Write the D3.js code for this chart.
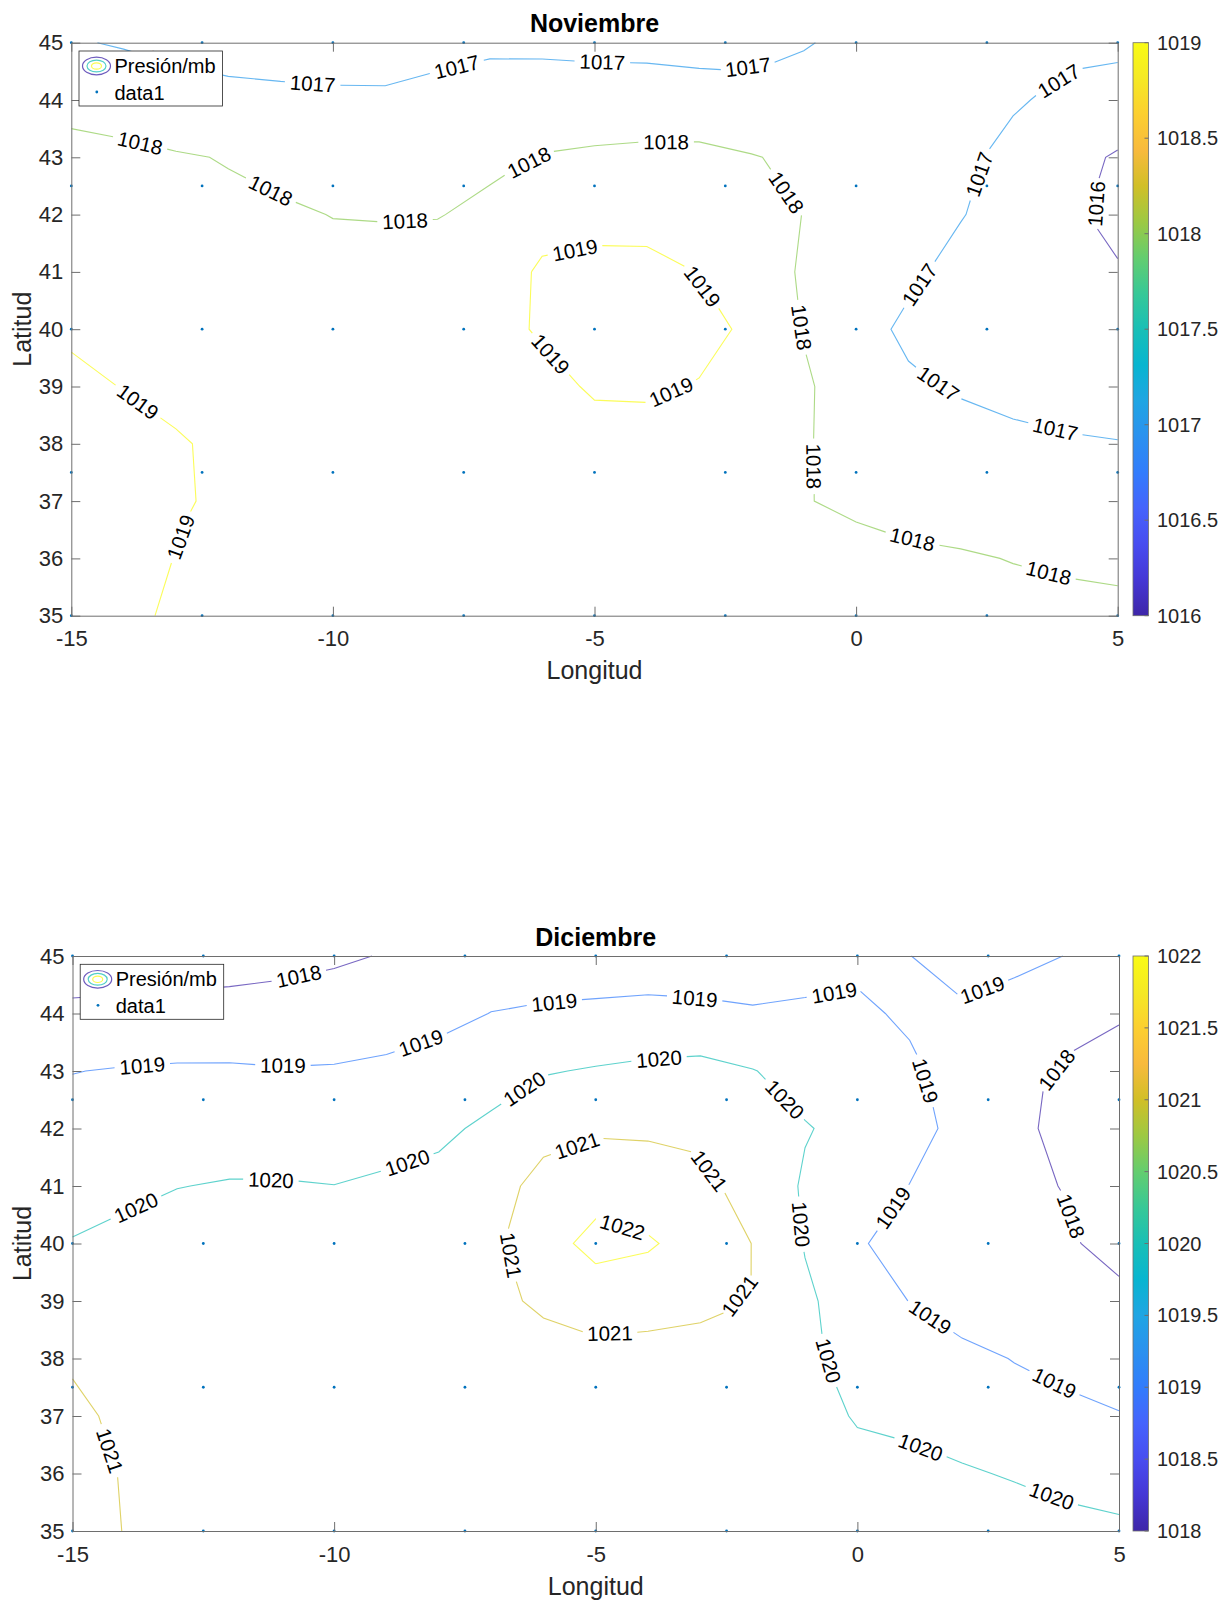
<!DOCTYPE html>
<html>
<head>
<meta charset="utf-8">
<script src="https://cdn.jsdelivr.net/npm/d3@7"></script>
<style>
  body { margin: 0; background: #fff; }
  text { font-family: "Liberation Sans", Arial, Helvetica, sans-serif; }
</style>
</head>
<body>
<svg id="chart" width="1223" height="1601"></svg>
<script>
// grid of the pressure field (1 degree), rows go from north to south
const lons = [-15, -14, -13, -12, -11, -10, -9, -8, -7, -6, -5, -4, -3, -2, -1, 0, 1, 2, 3, 4, 5];
const lats = [45, 44, 43, 42, 41, 40, 39, 38, 37, 36, 35];

// station points (data1)
const stationLons = [-15, -12.5, -10, -7.5, -5, -2.5, 0, 2.5, 5];
const stationLats = [45, 42.5, 40, 37.5, 35];

const novPressure = [
  [1017.1, 1016.9, 1016.85, 1016.8, 1016.75, 1016.7, 1016.7, 1016.75, 1016.8, 1016.8, 1016.77, 1016.74, 1016.65, 1016.63, 1016.9, 1017.35, 1017.4, 1017.35, 1017.3, 1017.2, 1017.1],
  [1017.9, 1017.79, 1017.24, 1017.14, 1017.12, 1017.105, 1017.1, 1017.25, 1017.51, 1017.5, 1017.45, 1017.47, 1017.43, 1017.37, 1017.61, 1017.5, 1017.45, 1017.35, 1017.1, 1016.8, 1016.81],
  [1018.1, 1018.1, 1018.09, 1017.95, 1017.6, 1017.5, 1017.5, 1017.6, 1017.84, 1018.04, 1018.14, 1018.2, 1018.21, 1018.04, 1017.85, 1017.6, 1017.45, 1017.2, 1016.74, 1016.4, 1015.88],
  [1018.38, 1018.32, 1018.35, 1018.2, 1018.19, 1017.97, 1017.95, 1017.97, 1018.17, 1018.6, 1018.65, 1018.7, 1018.6, 1018.45, 1017.98, 1017.65, 1017.35, 1017.05, 1016.55, 1016.15, 1015.8],
  [1018.64, 1018.54, 1018.55, 1018.45, 1018.45, 1018.4, 1018.33, 1018.345, 1018.42, 1019.15, 1019.3, 1019.24, 1018.98, 1018.72, 1017.85, 1017.55, 1017.2, 1016.67, 1016.45, 1016.15, 1016.06],
  [1018.9, 1018.76, 1018.72, 1018.65, 1018.62, 1018.58, 1018.58, 1018.65, 1018.7, 1019.1, 1019.4, 1019.35, 1019.2, 1018.88, 1017.95, 1017.4, 1016.8, 1016.55, 1016.45, 1016.3, 1016.3],
  [1019.15, 1018.98, 1018.87, 1018.8, 1018.72, 1018.68, 1018.68, 1018.72, 1018.8, 1018.74, 1019.1, 1019.1, 1018.965, 1018.75, 1018.12, 1017.55, 1017.16, 1016.89, 1016.7, 1016.6, 1016.6],
  [1019.4, 1019.2, 1019.046, 1018.9, 1018.78, 1018.72, 1018.72, 1018.75, 1018.8, 1018.75, 1018.68, 1018.74, 1018.75, 1018.55, 1018.08, 1017.65, 1017.35, 1017.41, 1017.23, 1017.1, 1017.03],
  [1019.55, 1019.4, 1019.05, 1018.92, 1018.8, 1018.72, 1018.72, 1018.72, 1018.78, 1018.75, 1018.75, 1018.75, 1018.7, 1018.45, 1018.05, 1017.8, 1017.6, 1017.7, 1017.6, 1017.5, 1017.45],
  [1019.6, 1019.4, 1018.975, 1018.85, 1018.75, 1018.68, 1018.68, 1018.68, 1018.72, 1018.7, 1018.7, 1018.7, 1018.65, 1018.4, 1018.2, 1018.35, 1018.19, 1018.06, 1017.98, 1017.85, 1017.8],
  [1019.65, 1019.3, 1018.8, 1018.7, 1018.65, 1018.6, 1018.6, 1018.6, 1018.62, 1018.62, 1018.65, 1018.65, 1018.55, 1018.3, 1018.25, 1018.5, 1018.4, 1018.3, 1018.2, 1018.3, 1018.22]
];

const decPressure = [
  [1017.43, 1017.47, 1017.52, 1017.6, 1017.72, 1017.87, 1018.05, 1018.3, 1018.5, 1018.36, 1018.37, 1018.4, 1018.28, 1018.24, 1018.4, 1018.7, 1018.99, 1019.3, 1019.25, 1018.98, 1018.75],
  [1018.21, 1018.26, 1018.32, 1018.35, 1018.39, 1018.47, 1018.55, 1018.75, 1019.015, 1019.15, 1019.22, 1019.29, 1019.27, 1019.13, 1019.23, 1019.23, 1018.8, 1018.89, 1018.59, 1018.5, 1018.15],
  [1018.98, 1019.06, 1019.11, 1019.11, 1019.05, 1019.07, 1019.18, 1019.36, 1019.55, 1019.94, 1020.07, 1020.19, 1020.26, 1020.03, 1019.7, 1019.5, 1019.23, 1018.44, 1018.3, 1017.8, 1017.4],
  [1019.34, 1019.43, 1019.52, 1019.56, 1019.54, 1019.53, 1019.55, 1019.8, 1020.2, 1020.65, 1020.88, 1020.86, 1020.8, 1020.4, 1020.05, 1019.76, 1019.4, 1018.66, 1018.25, 1017.7, 1017.2],
  [1019.69, 1019.83, 1019.98, 1020.06, 1020.06, 1020.01, 1020.18, 1020.29, 1020.55, 1021.35, 1021.6, 1021.5, 1021.25, 1020.625, 1019.9, 1019.6, 1018.98, 1018.55, 1018.25, 1017.95, 1017.25],
  [1020.04, 1020.2, 1020.4, 1020.45, 1020.45, 1020.4, 1020.5, 1020.6, 1020.8, 1021.6, 1022.3, 1022.09, 1021.66, 1020.98, 1019.95, 1019.15, 1018.44, 1018.35, 1018.2, 1018.15, 1017.6],
  [1020.47, 1020.45, 1020.6, 1020.65, 1020.65, 1020.65, 1020.65, 1020.75, 1020.85, 1021.1, 1021.45, 1021.5, 1021.3, 1020.99, 1020.15, 1019.55, 1018.98, 1018.6, 1018.5, 1018.6, 1018.3],
  [1020.89, 1020.65, 1020.7, 1020.7, 1020.7, 1020.7, 1020.7, 1020.75, 1020.8, 1020.76, 1020.72, 1020.55, 1020.51, 1020.7, 1020.2, 1019.67, 1019.5, 1019.22, 1018.97, 1018.8, 1018.7],
  [1021.2, 1020.8, 1020.75, 1020.7, 1020.7, 1020.7, 1020.7, 1020.7, 1020.75, 1020.75, 1020.65, 1020.5, 1020.45, 1020.5, 1020.25, 1019.95, 1019.8, 1019.6, 1019.35, 1019.17, 1019.03],
  [1021.6, 1020.9, 1020.8, 1020.7, 1020.65, 1020.65, 1020.65, 1020.65, 1020.7, 1020.7, 1020.6, 1020.5, 1020.4, 1020.4, 1020.3, 1020.2, 1020.24, 1020.09, 1019.93, 1019.7, 1019.6],
  [1021.8, 1020.95, 1020.8, 1020.7, 1020.6, 1020.6, 1020.6, 1020.6, 1020.65, 1020.65, 1020.55, 1020.45, 1020.35, 1020.3, 1020.3, 1020.4, 1020.5, 1020.3, 1020.4, 1020.3, 1020.16]
];

const novLevels = [1016, 1017, 1018, 1019];
const decLevels = [1018, 1019, 1020, 1021, 1022];
const novColorTicks = [1016, 1016.5, 1017, 1017.5, 1018, 1018.5, 1019];
const decColorTicks = [1018, 1018.5, 1019, 1019.5, 1020, 1020.5, 1021, 1021.5, 1022];
const lonTicks = [-15, -10, -5, 0, 5];
const latTicks = [35, 36, 37, 38, 39, 40, 41, 42, 43, 44, 45];

// parula colormap
const parulaColors = ['#3e26a8', '#4537d5', '#484df0', '#4563fc', '#327cfc', '#2b91ef', '#20a5e3', '#08b5d0',
  '#19bfb6', '#37c897', '#64cd6f', '#9dc943', '#d1bf27', '#f8ba3d', '#fccf30', '#f5e924', '#f9fb14'];
const parula = d3.piecewise(d3.interpolateRgb, parulaColors);

const panels = [
  { title: 'Noviembre', grid: novPressure, levels: novLevels, cbTicks: novColorTicks,
    box: { left: 71.3, right: 1117.7, top: 42.7, bottom: 615.7 } },
  { title: 'Diciembre', grid: decPressure, levels: decLevels, cbTicks: decColorTicks,
    box: { left: 72.5, right: 1119, top: 956, bottom: 1531 } }
];

const svg = d3.select('#chart');
svg.append('rect').attr('width', 1223).attr('height', 1601).attr('fill', '#fff');

const grad = svg.append('defs').append('linearGradient')
  .attr('id', 'parula').attr('x1', 0).attr('y1', 1).attr('x2', 0).attr('y2', 0);
parulaColors.forEach((c, i) => grad.append('stop')
  .attr('offset', i / (parulaColors.length - 1)).attr('stop-color', c));

const axisColor = '#6e6e6e';
const textColor = '#262626';
const labelFont = 20.5;
const labelW = 4 * 0.556 * labelFont;
const labelSpacing = 140;

// contour lines of one level, cut to the plotting area, in lon/lat
function contourLines(grid, level) {
  const nx = lons.length, ny = lats.length;
  const dLon = lons[1] - lons[0], dLat = lats[0] - lats[1];
  const mp = d3.contours().size([nx, ny]).contour(grid.flat(), level);
  const eps = 1e-7;
  const inside = ([lo, la]) => lo >= lons[0] - eps && lo <= lons[nx - 1] + eps &&
    la <= lats[0] + eps && la >= lats[ny - 1] - eps;
  const out = [];
  mp.coordinates.forEach(poly => poly.forEach(ring => {
    const pts = ring.slice(0, -1).map(([cx, cy]) => [lons[0] + (cx - 0.5) * dLon, lats[0] - (cy - 0.5) * dLat]);
    const ins = pts.map(inside);
    if (ins.every(Boolean)) {
      out.push({ pts: pts.concat([pts[0]]), closed: true });
      return;
    }
    const k = ins.indexOf(false);
    const rot = pts.slice(k).concat(pts.slice(0, k));
    const rotIn = ins.slice(k).concat(ins.slice(0, k));
    let cur = [];
    rot.forEach((p, i) => {
      if (rotIn[i]) cur.push(p);
      else { if (cur.length > 1) out.push({ pts: cur, closed: false }); cur = []; }
    });
    if (cur.length > 1) out.push({ pts: cur, closed: false });
  }));
  return out;
}

function lengths(pts) {
  const cum = [0];
  for (let i = 1; i < pts.length; i++) {
    cum.push(cum[i - 1] + Math.hypot(pts[i][0] - pts[i - 1][0], pts[i][1] - pts[i - 1][1]));
  }
  return cum;
}

function drawPanel(p) {
  const b = p.box;
  const g = svg.append('g');
  const x = d3.scaleLinear().domain([lons[0], lons[lons.length - 1]]).range([b.left, b.right]);
  const y = d3.scaleLinear().domain([lats[lats.length - 1], lats[0]]).range([b.bottom, b.top]);
  const cmin = d3.min(p.levels), cmax = d3.max(p.levels);
  const color = v => parula((v - cmin) / (cmax - cmin));

  // station dots
  const stations = [];
  stationLats.forEach(la => stationLons.forEach(lo => stations.push([lo, la])));
  g.selectAll('circle.st').data(stations).enter().append('circle')
    .attr('cx', d => x(d[0])).attr('cy', d => y(d[1])).attr('r', 1.4)
    .attr('fill', '#0072bd');

  // contour lines with labels
  const line = d3.line();
  p.levels.forEach(level => {
    contourLines(p.grid, level).forEach(c => {
      let pts = c.pts.map(([lo, la]) => [x(lo), y(la)]);
      let cum = lengths(pts);
      const L = cum[cum.length - 1];
      const n = L > labelW + 30 ? Math.max(1, Math.round(L / labelSpacing)) : 0;

      if (c.closed && n > 0) {
        // clockwise on screen, first label close to the top of the loop
        let area = 0;
        for (let i = 0; i < pts.length - 1; i++) area += pts[i][0] * pts[i + 1][1] - pts[i + 1][0] * pts[i][1];
        if (area < 0) { pts = pts.slice().reverse(); cum = lengths(pts); }
        const ring = pts.slice(0, -1);
        const it = d3.minIndex(ring, d => d[1]);
        const shift = n > 1 ? 20 : -28;
        let s0 = cum[it] - 0.5 * L / n - shift;
        s0 = ((s0 % L) + L) % L;
        const j = d3.minIndex(ring, (d, i) => Math.min(Math.abs(cum[i] - s0), L - Math.abs(cum[i] - s0)));
        const rr = ring.slice(j).concat(ring.slice(0, j));
        const offset = ((s0 - cum[j]) % L + L) % L;
        pts = rr.concat([rr[0]]);
        cum = lengths(pts);
        c.offset = offset > L / 2 ? offset - L : offset;
      }

      const pointAt = s => {
        s = Math.max(0, Math.min(L, s));
        const i = d3.bisectLeft(cum, s);
        if (i <= 0) return pts[0];
        const t = (s - cum[i - 1]) / ((cum[i] - cum[i - 1]) || 1);
        return [pts[i - 1][0] + t * (pts[i][0] - pts[i - 1][0]), pts[i - 1][1] + t * (pts[i][1] - pts[i - 1][1])];
      };
      const half = labelW / 2 + 5;
      const off = c.offset || 0;
      const positions = d3.range(n).map(k => Math.min(L - half, Math.max(half, (k + 0.5) * L / n + off)));
      const dash = [];
      let cur = 0;
      positions.forEach(s => {
        dash.push(Math.max(0, s - half - cur), 2 * half);
        cur = s + half;
      });
      dash.push(Math.max(0, L - cur) + 1, 100000);

      g.append('path')
        .attr('d', line(pts))
        .attr('fill', 'none')
        .attr('stroke', color(level))
        .attr('stroke-opacity', 0.7)
        .attr('stroke-width', 1.1)
        .attr('stroke-dasharray', positions.length ? dash.join(' ') : null);

      positions.forEach(s => {
        const p1 = pointAt(s - half + 5), p2 = pointAt(s + half - 5);
        let ang = Math.atan2(p2[1] - p1[1], p2[0] - p1[0]) * 180 / Math.PI;
        if (ang > 90) ang -= 180;
        if (ang < -90) ang += 180;
        const cx = (p1[0] + p2[0]) / 2, cy = (p1[1] + p2[1]) / 2;
        g.append('text')
          .attr('transform', `translate(${cx},${cy}) rotate(${ang})`)
          .attr('text-anchor', 'middle')
          .attr('dy', '0.36em')
          .attr('font-size', labelFont)
          .attr('fill', '#000')
          .text(level);
      });
    });
  });

  // axes
  const ax = g.append('g');
  ax.append('g').attr('transform', `translate(0,${b.bottom})`)
    .call(d3.axisBottom(x).tickValues(lonTicks).tickSize(-9).tickSizeOuter(0).tickPadding(15).tickFormat(d => String(d)));
  ax.append('g').attr('transform', `translate(0,${b.top})`)
    .call(d3.axisTop(x).tickValues(lonTicks).tickSize(-9).tickSizeOuter(0).tickFormat(''));
  ax.append('g').attr('transform', `translate(${b.left},0)`)
    .call(d3.axisLeft(y).tickValues(latTicks).tickSize(-9).tickSizeOuter(0).tickPadding(8).tickFormat(d => String(d)));
  ax.append('g').attr('transform', `translate(${b.right},0)`)
    .call(d3.axisRight(y).tickValues(latTicks).tickSize(-9).tickSizeOuter(0).tickFormat(''));
  ax.selectAll('path.domain').attr('stroke', axisColor);
  ax.selectAll('.tick line').attr('stroke', axisColor);
  ax.selectAll('.tick text').attr('font-size', 22).attr('fill', textColor)
    .attr('font-family', '"Liberation Sans", Arial, sans-serif');

  // titles and axis labels
  const cx = (b.left + b.right) / 2, cy = (b.top + b.bottom) / 2;
  g.append('text').attr('x', cx).attr('y', b.top - 10.5).attr('text-anchor', 'middle')
    .attr('font-size', 25).attr('font-weight', 'bold').attr('fill', '#000').text(p.title);
  g.append('text').attr('x', cx).attr('y', b.bottom + 63.5).attr('text-anchor', 'middle')
    .attr('font-size', 25).attr('fill', textColor).text('Longitud');
  g.append('text').attr('transform', `translate(31,${cy}) rotate(-90)`).attr('text-anchor', 'middle')
    .attr('font-size', 25).attr('fill', textColor).text('Latitud');

  // legend
  const lg = g.append('g').attr('transform', `translate(${b.left + 7.7},${b.top + 8.3})`);
  lg.append('rect').attr('width', 143.5).attr('height', 55).attr('fill', '#fff')
    .attr('stroke', textColor).attr('stroke-width', 0.8);
  [[14, 8.8, 0], [9.5, 5.9, 0.5], [5, 3.2, 1]].forEach(([rx, ry, t]) => {
    lg.append('ellipse').attr('cx', 17.5).attr('cy', 15).attr('rx', rx).attr('ry', ry)
      .attr('fill', 'none').attr('stroke', parula(t)).attr('stroke-opacity', 0.75).attr('stroke-width', 1.2);
  });
  lg.append('circle').attr('cx', 17.8).attr('cy', 41).attr('r', 1.4).attr('fill', '#0072bd');
  lg.append('text').attr('x', 35.5).attr('y', 22).attr('font-size', 20).attr('fill', '#000').text('Presión/mb');
  lg.append('text').attr('x', 35.5).attr('y', 48.5).attr('font-size', 20).attr('fill', '#000').text('data1');

  // colorbar
  const cbX = 1133, cbW = 15.5;
  const cy2 = d3.scaleLinear().domain([cmin, cmax]).range([b.bottom, b.top]);
  g.append('rect').attr('x', cbX).attr('y', b.top).attr('width', cbW).attr('height', b.bottom - b.top)
    .attr('fill', 'url(#parula)').attr('stroke', axisColor).attr('stroke-width', 0.8);
  p.cbTicks.forEach(v => {
    g.append('line').attr('x1', cbX + cbW - 4).attr('x2', cbX + cbW)
      .attr('y1', cy2(v)).attr('y2', cy2(v)).attr('stroke', axisColor);
    g.append('text').attr('x', cbX + cbW + 8.5).attr('y', cy2(v)).attr('dy', '0.35em')
      .attr('font-size', 20).attr('fill', textColor).text(v);
  });
}

panels.forEach(drawPanel);
</script>
</body>
</html>
